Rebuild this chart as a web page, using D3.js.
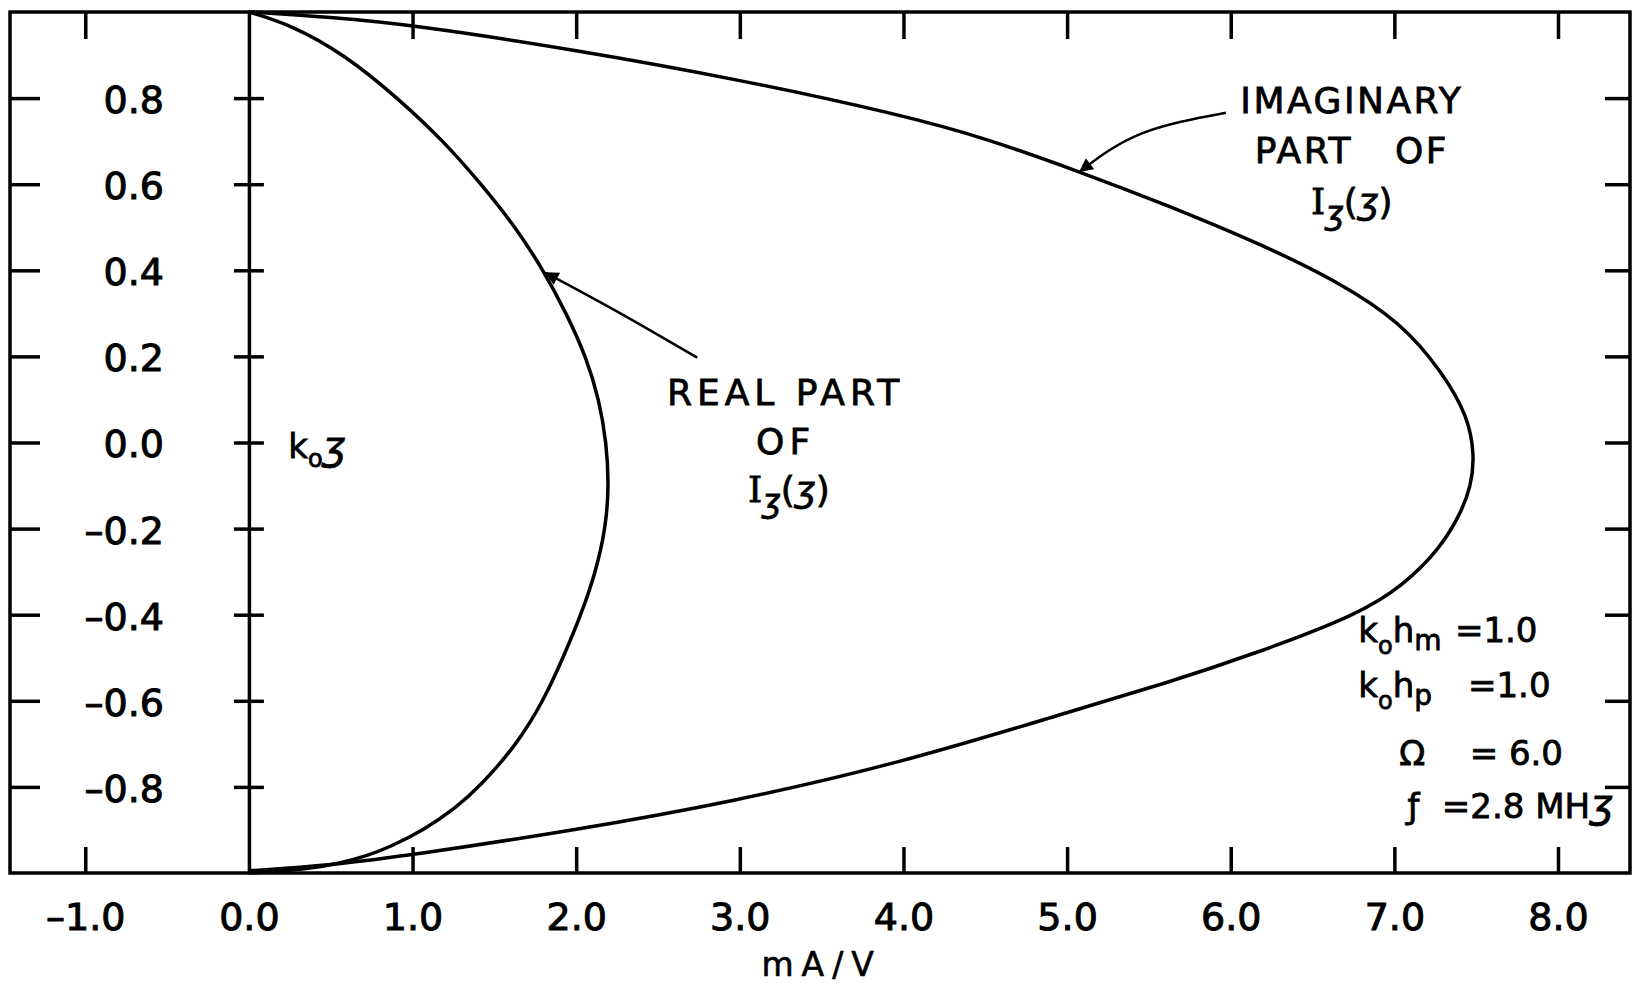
<!DOCTYPE html>
<html>
<head>
<meta charset="utf-8">
<script src="https://cdn.jsdelivr.net/npm/d3@7"></script>
<style>
body { margin: 0; background: #fff; }
text { font-family: "DejaVu Sans", sans-serif; fill: #000; }
</style>
</head>
<body>
<script>
// tick values
var xTicks = [-1, 0, 1, 2, 3, 4, 5, 6, 7, 8];
var yTicks = [-0.8, -0.6, -0.4, -0.2, 0, 0.2, 0.4, 0.6, 0.8];

// [mA/V, k0 z]
var realPart = [
  [0.0, 1.0], [0.26, 0.97], [0.59, 0.90], [0.91, 0.80], [1.19, 0.70],
  [1.42, 0.60], [1.63, 0.50], [1.80, 0.40], [1.94, 0.30], [2.06, 0.20],
  [2.14, 0.10], [2.185, 0.0], [2.20, -0.10], [2.18, -0.20], [2.12, -0.30],
  [2.03, -0.40], [1.92, -0.50], [1.80, -0.60], [1.64, -0.70], [1.41, -0.80],
  [1.26, -0.85], [1.07, -0.90], [0.86, -0.94], [0.72, -0.96], [0.56, -0.977],
  [0.35, -0.992], [0.0, -1.0]
];
var imagPart = [
  [0.0, 1.0], [0.5, 0.988], [1.0, 0.970], [2.0, 0.912], [3.0, 0.843],
  [4.0, 0.760], [4.5, 0.707], [5.07, 0.630], [5.6, 0.553], [6.2, 0.458],
  [6.65, 0.375], [7.04, 0.28], [7.30, 0.16], [7.45, 0.06], [7.49, -0.03],
  [7.47, -0.10], [7.40, -0.17], [7.27, -0.25], [7.06, -0.33], [6.78, -0.40],
  [6.15, -0.49], [5.6, -0.56], [5.01, -0.626], [3.98, -0.745], [2.95, -0.835],
  [2.0, -0.900], [1.0, -0.958], [0.5, -0.982], [0.0, -0.995]
];

var width = 1638, height = 987;

var svg = d3.select("body").append("svg")
  .attr("width", width)
  .attr("height", height);

var x = d3.scaleLinear().domain([-1.46, 8.44]).range([10, 1630]);
var y = d3.scaleLinear().domain([-1, 1]).range([873, 12]);

function fmt(d) {
  return (d < 0 ? "\u2013" : "") + Math.abs(d).toFixed(1);
}

function styleAxis(g) {
  g.attr("font-size", 38).attr("font-family", "DejaVu Sans");
  g.selectAll("line").attr("stroke", "#000").attr("stroke-width", 3.5);
  g.selectAll("text").attr("stroke", "#000").attr("stroke-width", 1);
}

// bottom frame edge ticks
svg.append("g")
  .attr("transform", "translate(0," + y(-1) + ")")
  .call(d3.axisBottom(x).tickValues(xTicks.filter(function(d){ return d !== 0; }))
    .tickSize(-26).tickFormat(""))
  .call(function(g){ g.select(".domain").remove(); })
  .call(styleAxis);

// bottom tick labels
svg.append("g")
  .attr("transform", "translate(0," + y(-1) + ")")
  .call(d3.axisBottom(x).tickValues(xTicks).tickSize(0).tickPadding(30).tickFormat(fmt))
  .call(function(g){ g.select(".domain").remove(); })
  .call(styleAxis);

// top frame ticks
svg.append("g")
  .attr("transform", "translate(0," + y(1) + ")")
  .call(d3.axisTop(x).tickValues(xTicks.filter(function(d){ return d !== 0; }))
    .tickSize(-27).tickFormat(""))
  .call(function(g){ g.select(".domain").remove(); })
  .call(styleAxis);

// left frame ticks
svg.append("g")
  .attr("transform", "translate(" + x.range()[0] + ",0)")
  .call(d3.axisLeft(y).tickValues(yTicks).tickSize(-30).tickFormat(""))
  .call(function(g){ g.select(".domain").remove(); })
  .call(styleAxis);

// right frame ticks
svg.append("g")
  .attr("transform", "translate(" + x.range()[1] + ",0)")
  .call(d3.axisRight(y).tickValues(yTicks).tickSize(-25).tickFormat(""))
  .call(function(g){ g.select(".domain").remove(); })
  .call(styleAxis);

// y axis at x = 0 with crossing ticks
svg.append("g")
  .attr("transform", "translate(" + x(0) + ",0)")
  .call(d3.axisLeft(y).tickValues(yTicks).tickSize(15).tickSizeOuter(0)
    .tickPadding(70).tickFormat(fmt))
  .call(function(g){
    g.selectAll(".tick line").attr("x1", 15);
    g.selectAll(".tick text").attr("dy", "0.38em");
    g.select(".domain").attr("stroke", "#000").attr("stroke-width", 3.5);
  })
  .call(styleAxis);

// frame
svg.append("rect")
  .attr("x", x.range()[0])
  .attr("y", y(1))
  .attr("width", x.range()[1] - x.range()[0])
  .attr("height", y(-1) - y(1))
  .attr("fill", "none")
  .attr("stroke", "#000")
  .attr("stroke-width", 3.5);

// curves
var line = d3.line()
  .x(function(d){ return x(d[0]); })
  .y(function(d){ return y(d[1]); })
  .curve(d3.curveBasis);

svg.append("path").datum(realPart)
  .attr("d", line).attr("fill", "none")
  .attr("stroke", "#000").attr("stroke-width", 3.5);

svg.append("path").datum(imagPart)
  .attr("d", line).attr("fill", "none")
  .attr("stroke", "#000").attr("stroke-width", 3.5);

// arrows
svg.append("defs").append("marker")
  .attr("id", "ah")
  .attr("viewBox", "0 0 10 10")
  .attr("refX", 9).attr("refY", 5)
  .attr("markerWidth", 7).attr("markerHeight", 5.5)
  .attr("orient", "auto")
  .append("path").attr("d", "M0,0L10,5L0,10z").attr("fill", "#000");

var imagArrow = [[5.97, 0.766], [5.45, 0.717], [5.08, 0.630]];
var realArrow = [[2.74, 0.197], [2.27, 0.30], [1.815, 0.394]];

var arrowLine = d3.line()
  .x(function(d){ return x(d[0]); })
  .y(function(d){ return y(d[1]); })
  .curve(d3.curveNatural);

svg.append("path").datum(imagArrow)
  .attr("d", arrowLine).attr("fill", "none")
  .attr("stroke", "#000").attr("stroke-width", 2.5)
  .attr("marker-end", "url(#ah)");

svg.append("path").datum(realArrow)
  .attr("d", arrowLine).attr("fill", "none")
  .attr("stroke", "#000").attr("stroke-width", 2.5)
  .attr("marker-end", "url(#ah)");

// text helpers
function label(px, py, size, anchor, spacing) {
  return svg.append("text")
    .attr("x", x(px)).attr("y", y(py))
    .attr("font-size", size)
    .attr("text-anchor", anchor || "start")
    .attr("letter-spacing", spacing || 0)
    .attr("stroke", "#000").attr("stroke-width", 0.8)
    .style("white-space", "pre");
}

function izz(t) {
  t.append("tspan").attr("font-family", "DejaVu Serif").text("I");
  t.append("tspan").attr("font-size", 32).attr("font-style", "italic").attr("dy", 10).text("\u0292");
  t.append("tspan").attr("dy", -10).text("(");
  t.append("tspan").attr("font-style", "italic").text("\u0292");
  t.append("tspan").text(")");
}

// imaginary part label
label(6.74, 0.766, 36, "middle", 2.5).text("IMAGINARY");
label(6.74, 0.650, 36, "middle", 2.5).text("PART   OF");
izz(label(6.74, 0.531, 36, "middle"));

// real part label
label(3.28, 0.088, 36, "middle", 5).text("REAL PART");
label(3.28, -0.026, 36, "middle", 5).text("OF");
izz(label(3.30, -0.139, 36, "middle"));

// k0 z on y axis
var kz = label(0.24, -0.035, 34, "start");
kz.append("tspan").text("k");
kz.append("tspan").attr("font-size", 24).attr("dy", 9).text("o");
kz.append("tspan").attr("font-size", 40).attr("font-style", "italic").attr("dy", -7).text("\u0292");

// parameters
var p1 = label(6.78, -0.464, 34, "start");
p1.append("tspan").text("k");
p1.append("tspan").attr("font-size", 24).attr("dy", 12).text("o");
p1.append("tspan").attr("dy", -12).text("h");
p1.append("tspan").attr("font-size", 28).attr("dy", 8).text("m");
label(7.37, -0.464, 34, "start").text("=1.0");

var p2 = label(6.78, -0.592, 34, "start");
p2.append("tspan").text("k");
p2.append("tspan").attr("font-size", 24).attr("dy", 12).text("o");
p2.append("tspan").attr("dy", -12).text("h");
p2.append("tspan").attr("font-size", 28).attr("dy", 8).text("p");
label(7.45, -0.592, 34, "start").text("=1.0");

label(7.03, -0.750, 34, "start").text("\u03A9");
label(7.46, -0.750, 34, "start").text("= 6.0");

label(7.08, -0.873, 34, "start").text("\u0192");
var p4 = label(7.29, -0.873, 34, "start");
p4.append("tspan").text("=2.8 MH");
p4.append("tspan").attr("font-size", 40).attr("font-style", "italic").text("\u0292");

// x axis title
svg.append("text")
  .attr("x", x(3.5)).attr("y", 976)
  .attr("text-anchor", "middle")
  .attr("font-size", 33)
  .attr("letter-spacing", 8)
  .attr("stroke", "#000").attr("stroke-width", 0.6)
  .text("mA/V");
</script>
</body>
</html>
